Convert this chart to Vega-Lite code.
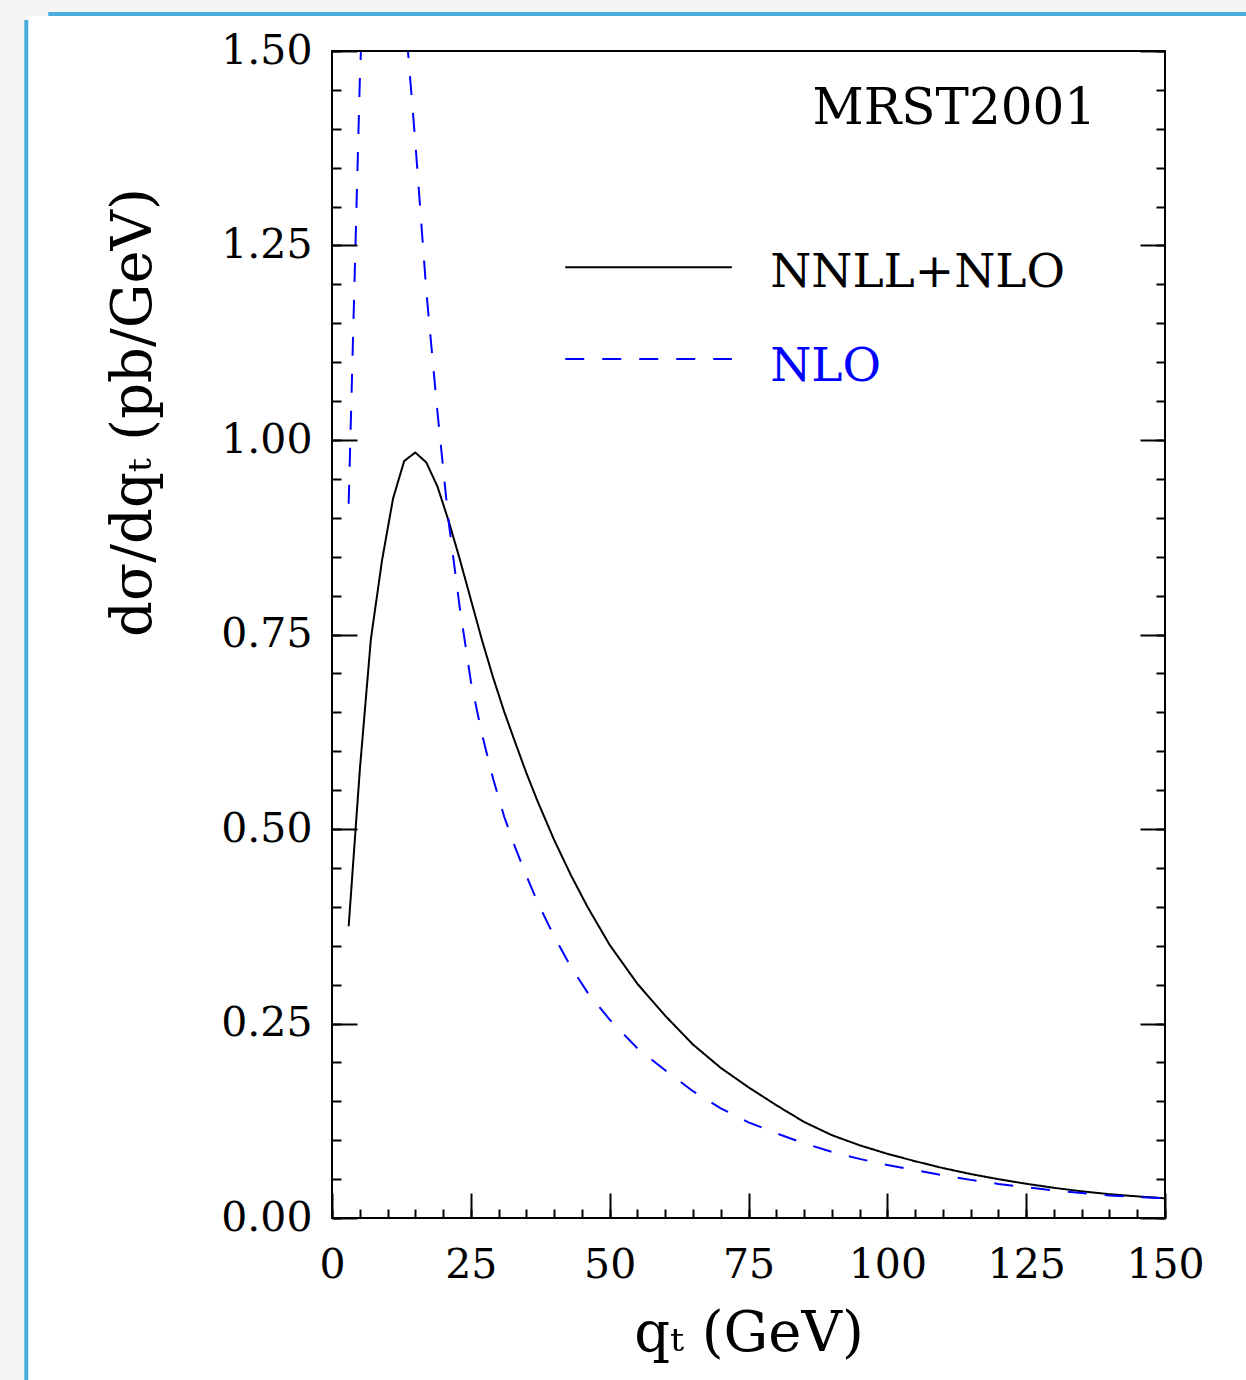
{
  "$schema": "https://vega.github.io/schema/vega-lite/v6.json",
  "width": 833,
  "height": 1167,
  "autosize": {"type": "none"},
  "padding": {"left": 332, "top": 51, "right": 81, "bottom": 162},
  "background": "#f5f5f5",
  "config": {
    "view": {"stroke": null},
    "font": "DejaVu Serif",
    "axis": {
      "labelFont": "DejaVu Serif",
      "titleFont": "DejaVu Serif",
      "labelColor": "black",
      "titleColor": "black",
      "tickColor": "black",
      "titleFontWeight": "normal",
      "domain": false,
      "grid": false
    }
  },
  "datasets": {
    "curves": [
      {"series": "NNLL+NLO", "q": 3, "v": 0.375},
      {"series": "NNLL+NLO", "q": 5, "v": 0.575},
      {"series": "NNLL+NLO", "q": 7, "v": 0.744},
      {"series": "NNLL+NLO", "q": 9, "v": 0.845},
      {"series": "NNLL+NLO", "q": 11, "v": 0.925},
      {"series": "NNLL+NLO", "q": 13, "v": 0.973},
      {"series": "NNLL+NLO", "q": 15, "v": 0.984},
      {"series": "NNLL+NLO", "q": 17, "v": 0.971},
      {"series": "NNLL+NLO", "q": 19, "v": 0.94},
      {"series": "NNLL+NLO", "q": 21, "v": 0.896},
      {"series": "NNLL+NLO", "q": 23, "v": 0.847},
      {"series": "NNLL+NLO", "q": 25, "v": 0.795},
      {"series": "NNLL+NLO", "q": 27, "v": 0.743},
      {"series": "NNLL+NLO", "q": 29, "v": 0.695},
      {"series": "NNLL+NLO", "q": 31, "v": 0.651},
      {"series": "NNLL+NLO", "q": 33, "v": 0.611},
      {"series": "NNLL+NLO", "q": 35, "v": 0.572},
      {"series": "NNLL+NLO", "q": 37, "v": 0.536},
      {"series": "NNLL+NLO", "q": 40, "v": 0.486},
      {"series": "NNLL+NLO", "q": 43, "v": 0.441},
      {"series": "NNLL+NLO", "q": 46, "v": 0.4},
      {"series": "NNLL+NLO", "q": 50, "v": 0.351},
      {"series": "NNLL+NLO", "q": 55, "v": 0.301},
      {"series": "NNLL+NLO", "q": 60, "v": 0.26},
      {"series": "NNLL+NLO", "q": 65, "v": 0.223},
      {"series": "NNLL+NLO", "q": 70, "v": 0.193},
      {"series": "NNLL+NLO", "q": 75, "v": 0.168},
      {"series": "NNLL+NLO", "q": 80, "v": 0.145},
      {"series": "NNLL+NLO", "q": 85, "v": 0.1235},
      {"series": "NNLL+NLO", "q": 90, "v": 0.1065},
      {"series": "NNLL+NLO", "q": 95, "v": 0.0935},
      {"series": "NNLL+NLO", "q": 100, "v": 0.0825},
      {"series": "NNLL+NLO", "q": 105, "v": 0.073},
      {"series": "NNLL+NLO", "q": 110, "v": 0.0642},
      {"series": "NNLL+NLO", "q": 115, "v": 0.0565},
      {"series": "NNLL+NLO", "q": 120, "v": 0.0499},
      {"series": "NNLL+NLO", "q": 125, "v": 0.044},
      {"series": "NNLL+NLO", "q": 130, "v": 0.0388},
      {"series": "NNLL+NLO", "q": 135, "v": 0.0343},
      {"series": "NNLL+NLO", "q": 140, "v": 0.0306},
      {"series": "NNLL+NLO", "q": 145, "v": 0.0278},
      {"series": "NNLL+NLO", "q": 150, "v": 0.0253},
      {"series": "NLO", "q": 3, "v": 0.918},
      {"series": "NLO", "q": 5, "v": 1.46},
      {"series": "NLO", "q": 7, "v": 1.85},
      {"series": "NLO", "q": 9, "v": 2.0},
      {"series": "NLO", "q": 11, "v": 1.9},
      {"series": "NLO", "q": 13, "v": 1.56},
      {"series": "NLO", "q": 15, "v": 1.383},
      {"series": "NLO", "q": 17, "v": 1.19},
      {"series": "NLO", "q": 19, "v": 1.035},
      {"series": "NLO", "q": 21, "v": 0.895},
      {"series": "NLO", "q": 23, "v": 0.785},
      {"series": "NLO", "q": 25, "v": 0.69},
      {"series": "NLO", "q": 27, "v": 0.622},
      {"series": "NLO", "q": 29, "v": 0.565},
      {"series": "NLO", "q": 31, "v": 0.516},
      {"series": "NLO", "q": 33, "v": 0.476},
      {"series": "NLO", "q": 35, "v": 0.44},
      {"series": "NLO", "q": 37, "v": 0.406},
      {"series": "NLO", "q": 40, "v": 0.362},
      {"series": "NLO", "q": 43, "v": 0.323},
      {"series": "NLO", "q": 46, "v": 0.29},
      {"series": "NLO", "q": 50, "v": 0.255},
      {"series": "NLO", "q": 55, "v": 0.218},
      {"series": "NLO", "q": 60, "v": 0.19},
      {"series": "NLO", "q": 65, "v": 0.163},
      {"series": "NLO", "q": 70, "v": 0.141},
      {"series": "NLO", "q": 75, "v": 0.123},
      {"series": "NLO", "q": 80, "v": 0.109},
      {"series": "NLO", "q": 85, "v": 0.096},
      {"series": "NLO", "q": 90, "v": 0.085},
      {"series": "NLO", "q": 95, "v": 0.076},
      {"series": "NLO", "q": 100, "v": 0.068},
      {"series": "NLO", "q": 105, "v": 0.0615},
      {"series": "NLO", "q": 110, "v": 0.055},
      {"series": "NLO", "q": 115, "v": 0.049},
      {"series": "NLO", "q": 120, "v": 0.0438},
      {"series": "NLO", "q": 125, "v": 0.0395},
      {"series": "NLO", "q": 130, "v": 0.0355},
      {"series": "NLO", "q": 135, "v": 0.032},
      {"series": "NLO", "q": 140, "v": 0.029},
      {"series": "NLO", "q": 145, "v": 0.027},
      {"series": "NLO", "q": 150, "v": 0.0253}
    ]
  },
  "data": {"name": "curves"},
  "resolve": {"axis": {"x": "independent", "y": "independent"}},
  "layer": [
    {
      "data": {"values": [{}]},
      "mark": {"type": "rect", "fill": "white", "strokeWidth": 0},
      "encoding": {
        "x": {"datum": -54.74, "type": "quantitative", "axis": null},
        "x2": {"datum": 168},
        "y": {"datum": 1.545, "type": "quantitative", "axis": null},
        "y2": {"datum": -0.25}
      }
    },
    {
      "data": {"values": [{}]},
      "mark": {"type": "rule", "color": "#38a5dc", "strokeWidth": 4, "opacity": 0.9},
      "encoding": {
        "x": {"datum": -51.1, "type": "quantitative", "axis": null},
        "x2": {"datum": 168},
        "y": {"datum": 1.5475, "type": "quantitative", "axis": null}
      }
    },
    {
      "data": {"values": [{}]},
      "mark": {"type": "rule", "color": "#38a5dc", "strokeWidth": 4, "opacity": 0.9},
      "encoding": {
        "x": {"datum": -55.05, "type": "quantitative", "axis": null},
        "y": {"datum": 1.54, "type": "quantitative", "axis": null},
        "y2": {"datum": -0.25}
      }
    },
    {
      "mark": {"type": "line", "strokeWidth": 2, "clip": true},
      "encoding": {
        "x": {
          "field": "q", "type": "quantitative",
          "scale": {"domain": [0, 150], "nice": false, "zero": false},
          "axis": {
            "zindex": 2,
            "orient": "bottom", "values": [0, 25, 50, 75, 100, 125, 150], "format": "d",
            "ticks": false, "labelFontSize": 41, "labelPadding": 27, "labelFlush": false, "labelOverlap": false,
            "title": "qₜ (GeV)", "titleFontSize": 56, "titleBaseline": "alphabetic", "titleY": 132
          }
        },
        "y": {
          "field": "v", "type": "quantitative",
          "scale": {"domain": [0, 1.5], "nice": false, "zero": false},
          "axis": {
            "zindex": 2,
            "orient": "left", "values": [0, 0.25, 0.5, 0.75, 1, 1.25, 1.5], "format": ".2f",
            "ticks": false, "labelFontSize": 41, "labelPadding": 20, "labelFlush": false, "labelOverlap": false,
            "title": "dσ/dqₜ (pb/GeV)", "titleFontSize": 56, "titleAngle": 270, "titleAlign": "center",
            "titleBaseline": "middle", "titleX": -199, "titleY": 361
          }
        },
        "color": {
          "field": "series", "type": "nominal",
          "scale": {"domain": ["NNLL+NLO", "NLO"], "range": ["black", "blue"]},
          "legend": null
        },
        "strokeDash": {
          "field": "series", "type": "nominal",
          "scale": {"domain": ["NNLL+NLO", "NLO"], "range": [[1, 0], [19, 18]]},
          "legend": null
        }
      }
    },
    {
      "mark": {"type": "point", "opacity": 0},
      "encoding": {
        "x": {"field": "q", "type": "quantitative",
          "axis": {"zindex": 2, "orient": "bottom", "values": [0, 25, 50, 75, 100, 125, 150], "labels": false, "ticks": true, "tickSize": -25, "tickWidth": 2, "title": null}},
        "y": {"field": "v", "type": "quantitative",
          "axis": {"zindex": 2, "orient": "left", "values": [0, 0.25, 0.5, 0.75, 1, 1.25, 1.5], "labels": false, "ticks": true, "tickSize": -25, "tickWidth": 2, "title": null}}
      }
    },
    {
      "mark": {"type": "point", "opacity": 0},
      "encoding": {
        "x": {"field": "q", "type": "quantitative",
          "axis": {"zindex": 2, "orient": "bottom", "values": [0, 5, 10, 15, 20, 25, 30, 35, 40, 45, 50, 55, 60, 65, 70, 75, 80, 85, 90, 95, 100, 105, 110, 115, 120, 125, 130, 135, 140, 145, 150], "labels": false, "ticks": true, "tickSize": -9, "tickWidth": 2, "title": null}},
        "y": {"field": "v", "type": "quantitative",
          "axis": {"zindex": 2, "orient": "left", "values": [0, 0.05, 0.1, 0.15, 0.2, 0.25, 0.3, 0.35, 0.4, 0.45, 0.5, 0.55, 0.6, 0.65, 0.7, 0.75, 0.8, 0.85, 0.9, 0.95, 1, 1.05, 1.1, 1.15, 1.2, 1.25, 1.3, 1.35, 1.4, 1.45, 1.5], "labels": false, "ticks": true, "tickSize": -9, "tickWidth": 2, "title": null}}
      }
    },
    {
      "mark": {"type": "point", "opacity": 0},
      "encoding": {
        "x": {"field": "q", "type": "quantitative", "axis": null},
        "y": {"field": "v", "type": "quantitative",
          "axis": {"zindex": 2, "orient": "right", "values": [0, 0.25, 0.5, 0.75, 1, 1.25, 1.5], "labels": false, "ticks": true, "tickSize": -25, "tickWidth": 2, "title": null}}
      }
    },
    {
      "mark": {"type": "point", "opacity": 0},
      "encoding": {
        "x": {"field": "q", "type": "quantitative", "axis": null},
        "y": {"field": "v", "type": "quantitative",
          "axis": {"zindex": 2, "orient": "right", "values": [0, 0.05, 0.1, 0.15, 0.2, 0.25, 0.3, 0.35, 0.4, 0.45, 0.5, 0.55, 0.6, 0.65, 0.7, 0.75, 0.8, 0.85, 0.9, 0.95, 1, 1.05, 1.1, 1.15, 1.2, 1.25, 1.3, 1.35, 1.4, 1.45, 1.5], "labels": false, "ticks": true, "tickSize": -9, "tickWidth": 2, "title": null}}
      }
    },
    {
      "data": {"values": [{}]},
      "mark": {"type": "rect", "fillOpacity": 0, "stroke": "black", "strokeWidth": 2, "clip": false},
      "encoding": {
        "x": {"datum": 0, "type": "quantitative", "axis": null},
        "x2": {"datum": 150},
        "y": {"datum": 0, "type": "quantitative", "axis": null},
        "y2": {"datum": 1.5}
      }
    },
    {
      "data": {"values": [{}]},
      "mark": {"type": "rule", "color": "black", "strokeWidth": 2},
      "encoding": {
        "x": {"datum": 42, "type": "quantitative", "axis": null},
        "x2": {"datum": 72},
        "y": {"datum": 1.222, "type": "quantitative", "axis": null}
      }
    },
    {
      "data": {"values": [{}]},
      "mark": {"type": "rule", "color": "blue", "strokeWidth": 2, "strokeDash": [19, 18]},
      "encoding": {
        "x": {"datum": 42, "type": "quantitative", "axis": null},
        "x2": {"datum": 72},
        "y": {"datum": 1.104, "type": "quantitative", "axis": null}
      }
    },
    {
      "data": {"values": [{"label": "NNLL+NLO"}]},
      "mark": {"type": "text", "align": "left", "baseline": "middle", "fontSize": 47, "font": "DejaVu Serif", "color": "black"},
      "encoding": {
        "x": {"datum": 78.9, "type": "quantitative", "axis": null},
        "y": {"datum": 1.215, "type": "quantitative", "axis": null},
        "text": {"field": "label"}
      }
    },
    {
      "data": {"values": [{"label": "NLO"}]},
      "mark": {"type": "text", "align": "left", "baseline": "middle", "fontSize": 47, "font": "DejaVu Serif", "color": "blue"},
      "encoding": {
        "x": {"datum": 78.9, "type": "quantitative", "axis": null},
        "y": {"datum": 1.094, "type": "quantitative", "axis": null},
        "text": {"field": "label"}
      }
    },
    {
      "data": {"values": [{"label": "MRST2001"}]},
      "mark": {"type": "text", "align": "right", "baseline": "middle", "fontSize": 50, "font": "DejaVu Serif", "color": "black"},
      "encoding": {
        "x": {"datum": 137.6, "type": "quantitative", "axis": null},
        "y": {"datum": 1.426, "type": "quantitative", "axis": null},
        "text": {"field": "label"}
      }
    }
  ]
}
